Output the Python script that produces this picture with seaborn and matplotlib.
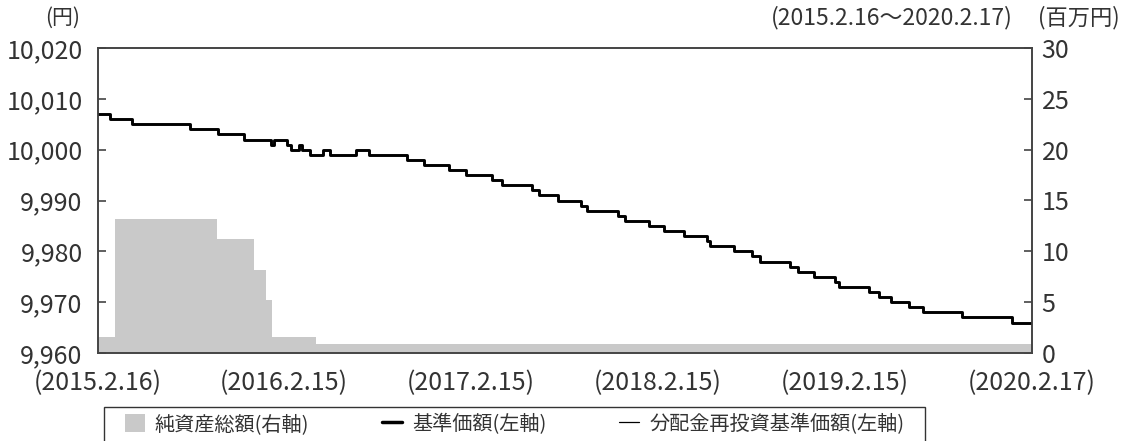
import pandas as pd
import numpy as np
import seaborn as sns
import matplotlib
matplotlib.use("Agg")
import matplotlib.pyplot as plt
from matplotlib.patches import Patch
from matplotlib.lines import Line2D

# 基準価額 (円) - change points of the step line
price_dates = ["2015-02-16", "2015-03-11", "2015-04-24", "2015-08-15", "2015-10-09",
               "2015-11-29", "2016-01-20", "2016-01-26", "2016-02-20", "2016-02-28",
               "2016-03-15", "2016-03-21", "2016-04-05", "2016-05-01", "2016-05-14",
               "2016-07-05", "2016-07-31", "2016-10-13", "2016-11-15", "2017-01-03",
               "2017-02-05", "2017-03-27", "2017-04-17", "2017-06-13", "2017-06-27",
               "2017-08-03", "2017-09-17", "2017-09-29", "2017-11-30", "2017-12-13",
               "2018-01-28", "2018-02-27", "2018-04-08", "2018-05-22", "2018-05-29",
               "2018-07-15", "2018-08-19", "2018-09-02", "2018-11-01", "2018-11-17",
               "2018-12-17", "2019-01-28", "2019-02-04", "2019-04-05", "2019-04-23",
               "2019-05-17", "2019-06-21", "2019-07-18", "2019-10-04", "2020-01-08",
               "2020-02-17"]
price_values = [10007, 10006, 10005, 10004, 10003,
                10002, 10001, 10002, 10001, 10000,
                10001, 10000, 9999, 10000, 9999,
                10000, 9999, 9998, 9997, 9996,
                9995, 9994, 9993, 9992, 9991,
                9990, 9989, 9988, 9987, 9986,
                9985, 9984, 9983, 9982, 9981,
                9980, 9979, 9978, 9977, 9976,
                9975, 9974, 9973, 9972, 9971,
                9970, 9969, 9968, 9967, 9966,
                9966]

# 純資産総額 (百万円)
nav_dates = ["2015-02-16", "2015-03-21", "2015-10-07", "2015-12-18", "2016-01-11",
             "2016-01-22", "2016-04-18", "2020-02-17"]
nav_values = [1.6, 13.2, 11.2, 8.2, 5.2, 1.6, 0.85, 0.85]

tick_dates = ["2015-02-16", "2016-02-15", "2017-02-15", "2018-02-15", "2019-02-15", "2020-02-17"]
tick_labels = ["(2015.2.16)", "(2016.2.15)", "(2017.2.15)", "(2018.2.15)", "(2019.2.15)", "(2020.2.17)"]
left_ticks = [9960, 9970, 9980, 9990, 10000, 10010, 10020]
right_ticks = [0, 5, 10, 15, 20, 25, 30]

sns.set_style("white")
plt.rcParams['font.family'] = ['Noto Sans CJK JP', 'DejaVu Sans']
txt = "#333333"
spine = "#444444"
gray = "#c9c9c9"

price = pd.DataFrame({"date": pd.to_datetime(price_dates), "value": price_values})
nav = pd.DataFrame({"date": pd.to_datetime(nav_dates), "value": nav_values})

fig = plt.figure(figsize=(11.26, 4.41), dpi=100)
ax = fig.add_axes([98 / 1126, 1 - 353 / 441, (1032 - 98) / 1126, (353 - 48) / 441])
ax2 = ax.twinx()

ax2.fill_between(nav["date"], 0, nav["value"], step="post", color=gray, linewidth=0)

sns.lineplot(data=price, x="date", y="value", ax=ax, drawstyle="steps-post",
             color="black", linewidth=0.8)
sns.lineplot(data=price, x="date", y="value", ax=ax, drawstyle="steps-post",
             color="black", linewidth=2.1)

ax.set_zorder(ax2.get_zorder() + 1)
ax.patch.set_visible(False)

ax.set_xlim(pd.Timestamp(tick_dates[0]), pd.Timestamp(tick_dates[-1]))
ax.set_ylim(9960, 10020)
ax2.set_ylim(0, 30)
ax.set_xticks(pd.to_datetime(tick_dates))
ax.set_xticklabels(tick_labels)
ax.set_yticks(left_ticks)
ax.set_yticklabels([f"{v:,}" for v in left_ticks])
ax2.set_yticks(right_ticks)
ax2.set_yticklabels([str(v) for v in right_ticks])
ax.set_xlabel("")
ax.set_ylabel("")

for a in (ax, ax2):
    for s in a.spines.values():
        s.set_color(spine)
        s.set_linewidth(1.2)
ax.tick_params(axis="both", direction="in", length=6, width=1.2, color=spine,
               labelsize=18, labelcolor=txt, pad=11)
ax.tick_params(axis="x", pad=12)
ax2.tick_params(axis="y", direction="in", length=6, width=1.2, color=spine,
                labelsize=18, labelcolor=txt, pad=7)

fig.text(80 / 1126, 1 - 18 / 441, "(円)", ha="right", va="center", fontsize=15, color=txt)
fig.text(1013 / 1126, 1 - 18 / 441, "(2015.2.16～2020.2.17)", ha="right", va="center",
         fontsize=16.5, color=txt)
fig.text(1038 / 1126, 1 - 18 / 441, "(百万円)", ha="left", va="center", fontsize=16, color=txt)

handles = [Patch(facecolor=gray, edgecolor="none"),
           Line2D([], [], color="black", linewidth=2.5),
           Line2D([], [], color="black", linewidth=0.9)]
labels = ["純資産総額(右軸)", "基準価額(左軸)", "分配金再投資基準価額(左軸)"]
leg = fig.legend(handles, labels, loc="upper left", ncol=3,
                 bbox_to_anchor=(104 / 1126, 1 - 407 / 441), frameon=True,
                 fancybox=False, edgecolor="#333333", fontsize=14.5,
                 handlelength=1.0, handleheight=1.0, handletextpad=0.5,
                 columnspacing=3.6, borderpad=0.35, borderaxespad=0,
                 labelcolor=txt)
leg.get_frame().set_linewidth(1.0)
leg.get_frame().set_alpha(1)
leg.get_frame().set_boxstyle("square", pad=0)
# widen the boxed legend toward the right like the original
leg._legend_box.set_width(807)

fig.savefig("out.png", dpi=100)
